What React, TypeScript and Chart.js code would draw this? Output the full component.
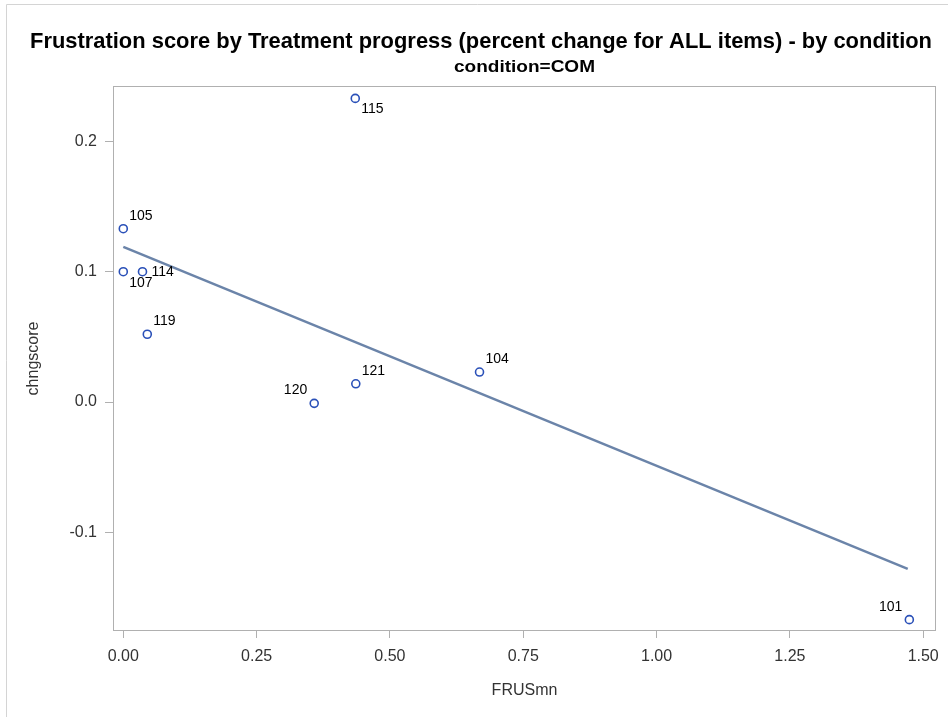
import React, { useEffect, useRef } from "react";
import { Chart, registerables } from "chart.js";

Chart.register(...registerables);

const TITLE = "Frustration score by Treatment progress (percent change for ALL items) - by condition";
const SUBTITLE = "condition=COM";
const X_LABEL = "FRUSmn";
const Y_LABEL = "chngscore";

const ids = ["105", "107", "114", "119", "120", "121", "104", "115", "101"];
const frusMn = [0.0, 0.0, 0.036, 0.045, 0.358, 0.436, 0.668, 0.435, 1.474];
const chngScore = [0.133, 0.1, 0.1, 0.052, -0.001, 0.014, 0.023, 0.233, -0.167];
const labelPlacement = ["NE", "SE", "E", "NE", "NW", "NE", "NE", "SE", "NW"];

const fitX = [0.0, 1.471];
const fitY = [0.119, -0.128];

const xTicks = [0, 0.25, 0.5, 0.75, 1.0, 1.25, 1.5];
const yTicks = [-0.1, 0.0, 0.1, 0.2];

const FONT = "'Liberation Sans', Arial, sans-serif";
const FRAME = "#b0b0b0";

const decorPlugin = {
  id: "decor",
  beforeDraw(chart: any) {
    const ctx = chart.ctx;
    ctx.save();
    ctx.fillStyle = "#ffffff";
    ctx.fillRect(0, 0, chart.width, chart.height);
    ctx.strokeStyle = "#d4d4d4";
    ctx.lineWidth = 1;
    ctx.beginPath();
    ctx.moveTo(6.5, chart.height);
    ctx.lineTo(6.5, 4.5);
    ctx.lineTo(chart.width, 4.5);
    ctx.stroke();

    // title (condensed)
    ctx.fillStyle = "#000";
    ctx.textBaseline = "alphabetic";
    ctx.textAlign = "left";
    ctx.font = `bold 21.5px ${FONT}`;
    const w1 = ctx.measureText(TITLE).width;
    ctx.save();
    ctx.translate(30, 48);
    ctx.scale(902 / w1, 1);
    ctx.fillText(TITLE, 0, 0);
    ctx.restore();

    ctx.font = `bold 16px ${FONT}`;
    const w2 = ctx.measureText(SUBTITLE).width;
    ctx.save();
    ctx.translate(454, 72);
    ctx.scale(141 / w2, 1);
    ctx.fillText(SUBTITLE, 0, 0);
    ctx.restore();
    ctx.restore();
  },
  afterDraw(chart: any) {
    const { ctx, chartArea } = chart;
    ctx.save();
    ctx.strokeStyle = FRAME;
    ctx.lineWidth = 1;
    ctx.strokeRect(
      Math.round(chartArea.left) + 0.5,
      Math.round(chartArea.top) + 0.5,
      Math.round(chartArea.right - chartArea.left) - 1,
      Math.round(chartArea.bottom - chartArea.top) - 1
    );
    ctx.restore();
  },
  afterDatasetsDraw(chart: any) {
    const { ctx } = chart;
    const meta = chart.getDatasetMeta(1);
    ctx.save();
    ctx.font = `14px ${FONT}`;
    ctx.fillStyle = "#000";
    ctx.textBaseline = "middle";
    meta.data.forEach((el: any, i: number) => {
      const p = labelPlacement[i];
      let dx = 6,
        dy = -13,
        align: CanvasTextAlign = "left";
      if (p === "SE") {
        dx = 6;
        dy = 11;
      } else if (p === "E") {
        dx = 9;
        dy = 0;
      } else if (p === "NW") {
        dx = -7;
        dy = -13;
        align = "right";
      }
      ctx.textAlign = align;
      ctx.fillText(ids[i], el.x + dx, el.y + dy);
    });
    ctx.restore();
  },
};

export default function App() {
  const ref = useRef<HTMLCanvasElement | null>(null);

  useEffect(() => {
    document.body.style.margin = "0";
    const canvas = ref.current!;
    const chart = new Chart(canvas, {
      type: "scatter",
      data: {
        datasets: [
          {
            type: "line",
            label: "Fit",
            data: fitX.map((x, i) => ({ x, y: fitY[i] })),
            borderColor: "#6b84a9",
            borderWidth: 2.5,
            pointRadius: 0,
            fill: false,
            order: 2,
          } as any,
          {
            label: "chngscore",
            data: frusMn.map((x, i) => ({ x, y: chngScore[i] })),
            pointStyle: "circle",
            pointRadius: 4,
            pointBorderWidth: 1.6,
            borderColor: "#2a50b8",
            backgroundColor: "rgba(0,0,0,0)",
            pointBackgroundColor: "rgba(0,0,0,0)",
            pointBorderColor: "#2a50b8",
            order: 1,
          },
        ],
      },
      options: {
        responsive: false,
        animation: false,
        devicePixelRatio: 1,
        layout: { padding: { top: 86, right: 12, left: 0, bottom: 0 } },
        plugins: {
          legend: { display: false },
          tooltip: { enabled: false },
          title: { display: false },
        },
        scales: {
          x: {
            type: "linear",
            min: -0.0193,
            max: 1.524,
            afterFit: (s: any) => {
              s.height = 86;
            },
            afterBuildTicks: (s: any) => {
              s.ticks = xTicks.map((v) => ({ value: v }));
            },
            grid: {
              drawOnChartArea: false,
              drawTicks: true,
              tickLength: 7,
              color: FRAME,
            },
            border: { display: false },
            ticks: {
              padding: 9,
              color: "#333",
              font: { size: 16, family: FONT },
              maxRotation: 0,
              callback: (v: any) => Number(v).toFixed(2),
            },
            title: {
              display: true,
              text: X_LABEL,
              color: "#333",
              font: { size: 16, family: FONT },
              padding: { top: 0, bottom: 17 },
            },
          },
          y: {
            type: "linear",
            min: -0.1757,
            max: 0.2425,
            afterFit: (s: any) => {
              s.width = 113;
            },
            afterBuildTicks: (s: any) => {
              s.ticks = yTicks.map((v) => ({ value: v }));
            },
            grid: {
              drawOnChartArea: false,
              drawTicks: true,
              tickLength: 8,
              color: FRAME,
            },
            border: { display: false },
            ticks: {
              padding: 8,
              color: "#333",
              font: { size: 16, family: FONT },
              callback: (v: any) => Number(v).toFixed(1),
            },
            title: {
              display: true,
              text: Y_LABEL,
              color: "#333",
              font: { size: 16, family: FONT },
              padding: { top: 24, bottom: 0 },
            },
          },
        },
      },
      plugins: [decorPlugin],
    });
    return () => chart.destroy();
  }, []);

  return (
    <div style={{ width: 948, height: 717 }}>
      <canvas ref={ref} width={948} height={717} style={{ display: "block" }} />
    </div>
  );
}
